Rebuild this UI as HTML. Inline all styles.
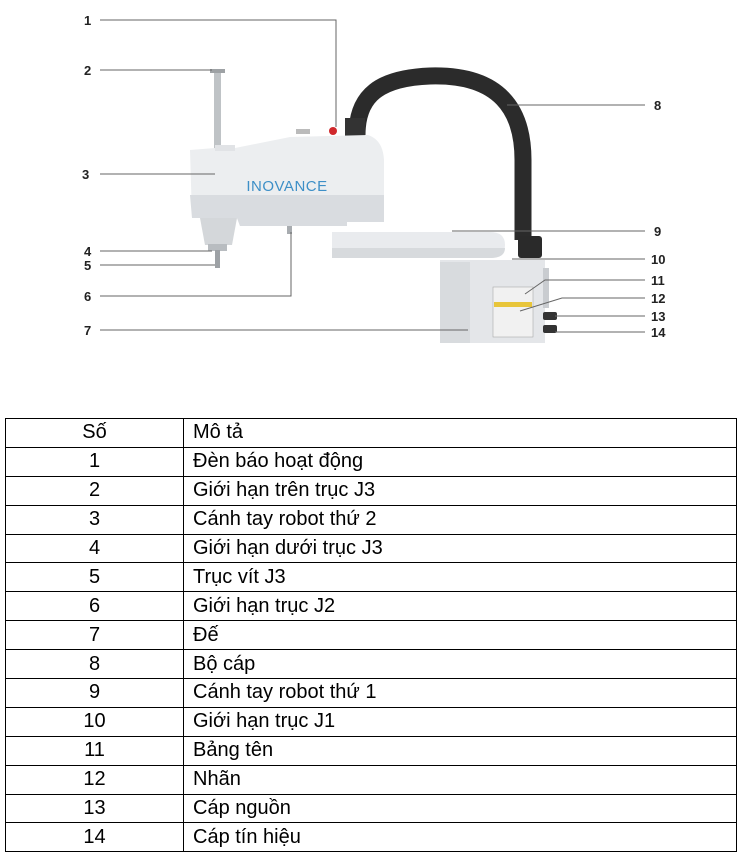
<!DOCTYPE html>
<html><head><meta charset="utf-8">
<style>
html,body{margin:0;padding:0;background:#fff;}
body{width:742px;height:856px;position:relative;overflow:hidden;font-family:"Liberation Sans Narrow","Liberation Sans",sans-serif;}
svg{position:absolute;left:0;top:0;}
.tbl{position:absolute;left:5px;top:418px;width:732px;border-collapse:collapse;}
.tbl td{border:1px solid #000;height:27.9px;padding:0;font-size:20px;line-height:27px;color:#000;}
.tbl td.n{width:177px;text-align:center;}
.tbl td.d{padding-left:9px;}
</style></head><body>
<svg width="742" height="400" viewBox="0 0 742 400" font-family="Liberation Sans, sans-serif">
<path d="M357,135 C357,95 380,78 430,76 C500,74 523,110 523,160 L523,240" fill="none" stroke="#2b2b2b" stroke-width="17"/>
<rect x="518" y="236" width="24" height="22" rx="3" fill="#2a2a2a"/>
<rect x="345" y="118" width="20" height="20" fill="#333"/>
<rect x="214" y="72" width="7" height="78" fill="#bfc3c6"/>
<rect x="210" y="69" width="15" height="4" fill="#9ea2a5"/>
<path d="M440,260 L545,260 L545,343 L440,343 Z" fill="#e4e6e9"/>
<path d="M440,262 L470,262 L470,343 L440,343 Z" fill="#d8dbde"/>
<rect x="493" y="287" width="40" height="50" fill="#f1f1f1" stroke="#aaa" stroke-width="0.6"/>
<rect x="494" y="302" width="38" height="5" fill="#e8c53a"/>
<rect x="543" y="268" width="6" height="40" fill="#c9ccd0"/>
<rect x="543" y="312" width="14" height="8" rx="2" fill="#333"/>
<rect x="543" y="325" width="14" height="8" rx="2" fill="#333"/>
<path d="M332,232 L490,232 Q505,232 505,245 Q505,258 490,258 L332,258 Z" fill="#e9ebee"/>
<path d="M332,248 L505,248 Q505,258 490,258 L332,258 Z" fill="#d7dadd"/>
<path d="M190,150 L215,148 L235,148 L290,137 L368,135 Q383,140 384,160 L384,222 L347,222 L347,226 L240,226 L237,218 L192,218 Z" fill="#eceef0"/>
<path d="M190,195 L384,195 L384,222 L347,222 L347,226 L240,226 L237,218 L192,218 Z" fill="#d9dce0"/>
<rect x="215" y="145" width="20" height="6" fill="#e1e3e6"/>
<path d="M200,218 L237,218 L232,245 L205,245 Z" fill="#d4d7da"/>
<rect x="208" y="244" width="19" height="7" fill="#b8bcc0"/>
<rect x="215" y="250" width="5" height="18" fill="#9da1a5"/>
<rect x="287" y="226" width="5" height="8" fill="#a8acb0"/>
<circle cx="333" cy="131" r="4" fill="#d0282c"/>
<rect x="296" y="129" width="14" height="5" fill="#bbb"/>
<text x="287" y="191" font-size="15" fill="#3d8fc7" text-anchor="middle" letter-spacing="0.5">INOVANCE</text>
<g stroke="#666" stroke-width="1" fill="none">
<path d="M100,20 L336,20 L336,127"/>
<path d="M100,70 L212,70"/>
<path d="M100,174 L215,174"/>
<path d="M100,251 L212,251"/>
<path d="M100,265 L215,265"/>
<path d="M100,296 L291,296 L291,232"/>
<path d="M100,330 L468,330"/>
<path d="M507,105 L645,105"/>
<path d="M452,231 L645,231"/>
<path d="M512,259 L645,259"/>
<path d="M525,294 L545,280 L645,280"/>
<path d="M520,311 L562,298 L645,298"/>
<path d="M555,316 L645,316"/>
<path d="M555,332 L645,332"/>
</g>
<g font-size="13" fill="#222" font-weight="bold">
<text x="84" y="25">1</text>
<text x="84" y="75">2</text>
<text x="82" y="179">3</text>
<text x="84" y="256">4</text>
<text x="84" y="270">5</text>
<text x="84" y="301">6</text>
<text x="84" y="335">7</text>
<text x="654" y="110">8</text>
<text x="654" y="236">9</text>
<text x="651" y="264">10</text>
<text x="651" y="285">11</text>
<text x="651" y="303">12</text>
<text x="651" y="321">13</text>
<text x="651" y="337">14</text>
</g>
</svg>
<table class="tbl">
<tr><td class="n">Số</td><td class="d">Mô tả</td></tr>
<tr><td class="n">1</td><td class="d">Đèn báo hoạt động</td></tr>
<tr><td class="n">2</td><td class="d">Giới hạn trên trục J3</td></tr>
<tr><td class="n">3</td><td class="d">Cánh tay robot thứ 2</td></tr>
<tr><td class="n">4</td><td class="d">Giới hạn dưới trục J3</td></tr>
<tr><td class="n">5</td><td class="d">Trục vít J3</td></tr>
<tr><td class="n">6</td><td class="d">Giới hạn trục J2</td></tr>
<tr><td class="n">7</td><td class="d">Đế</td></tr>
<tr><td class="n">8</td><td class="d">Bộ cáp</td></tr>
<tr><td class="n">9</td><td class="d">Cánh tay robot thứ 1</td></tr>
<tr><td class="n">10</td><td class="d">Giới hạn trục J1</td></tr>
<tr><td class="n">11</td><td class="d">Bảng tên</td></tr>
<tr><td class="n">12</td><td class="d">Nhãn</td></tr>
<tr><td class="n">13</td><td class="d">Cáp nguồn</td></tr>
<tr><td class="n">14</td><td class="d">Cáp tín hiệu</td></tr>
</table>
</body></html>
